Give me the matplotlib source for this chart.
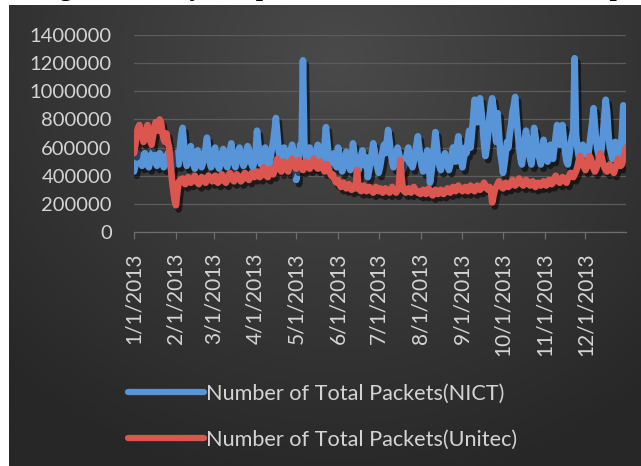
import numpy as np
import pandas as pd
import matplotlib
matplotlib.use("Agg")
import matplotlib.pyplot as plt
import matplotlib.patheffects as pe

# ---------------- data (thousands of packets per day, 2013) ----------------
start_date = "2013-01-01"
end_date = "2013-12-31"

nict_k = [
    # Jan
    430, 470, 520, 560, 540, 500, 470, 520, 560, 540, 480, 460, 510, 550, 570, 530,
    490, 470, 520, 560, 540, 500, 460, 480, 530, 560, 520, 480, 450, 500, 540,
    # Feb
    560, 510, 480, 600, 690, 740, 620, 520, 470, 500, 560, 610, 540, 480, 450, 520,
    580, 560, 500, 460, 490, 550, 600, 670, 580, 500, 460, 510,
    # Mar
    560, 600, 520, 470, 450, 500, 560, 590, 540, 480, 460, 520, 580, 630, 560, 490,
    460, 500, 550, 600, 570, 510, 470, 490, 540, 610, 590, 520, 480, 460, 500,
    # Apr
    560, 720, 620, 520, 480, 510, 560, 600, 540, 490, 470, 530, 590, 640, 720, 810,
    700, 580, 520, 490, 540, 600, 560, 510, 480, 520, 580, 620, 560, 500,
    # May
    370, 450, 560, 620, 580, 1220, 640, 540, 500, 560, 600, 550, 490, 470, 520, 580,
    620, 580, 520, 480, 530, 620, 745, 640, 540, 480, 470, 520, 560, 500, 460,
    # Jun
    600, 540, 470, 430, 460, 520, 570, 540, 480, 440, 470, 630, 560, 500, 450, 430,
    480, 540, 580, 520, 470, 530, 390, 440, 500, 560, 630, 580, 500, 460,
    # Jul
    420, 460, 520, 580, 620, 560, 640, 725, 650, 560, 500, 460, 500, 560, 600, 560,
    500, 470, 440, 480, 520, 560, 600, 540, 480, 460, 500, 560, 620, 680, 600,
    # Aug
    520, 460, 430, 470, 530, 580, 520, 350, 420, 500, 600, 710, 620, 520, 470, 440,
    480, 520, 560, 520, 470, 440, 480, 540, 600, 560, 500, 620, 680, 580, 500,
    # Sep
    460, 520, 600, 560, 650, 720, 600, 700, 820, 940, 900, 780, 880, 950, 860, 760,
    620, 540, 600, 700, 820, 900, 950, 880, 720, 640, 845, 700, 560, 500,
    # Oct
    420, 480, 560, 640, 600, 700, 760, 850, 900, 960, 820, 700, 600, 520, 480, 560,
    640, 720, 660, 580, 520, 480, 560, 740, 680, 600, 560, 520, 480, 560, 655,
    # Nov
    600, 540, 500, 560, 620, 580, 520, 600, 680, 760, 700, 620, 700, 760, 660, 560,
    500, 480, 540, 620, 680, 720, 1235, 700, 600, 540, 500, 560, 620, 580,
    # Dec
    520, 480, 540, 620, 700, 780, 880, 760, 640, 580, 540, 520, 600, 700, 820, 940,
    860, 700, 600, 560, 520, 580, 640, 600, 560, 520, 600, 700, 900, 760, 620,
]

unitec_k = [
    # Jan
    560, 620, 700, 740, 760, 720, 680, 640, 660, 720, 760, 700, 650, 620, 680, 740,
    780, 760, 720, 800, 780, 700, 660, 640, 700, 640, 600, 480, 380, 300, 230,
    # Feb
    190, 280, 350, 370, 360, 380, 350, 340, 360, 390, 370, 350, 360, 380, 400, 370,
    350, 340, 370, 390, 380, 360, 350, 370, 400, 390, 370, 360,
    # Mar
    380, 400, 370, 350, 360, 390, 410, 380, 360, 350, 370, 400, 420, 390, 370, 360,
    380, 410, 400, 380, 360, 370, 400, 420, 400, 380, 370, 390, 420, 410, 390,
    # Apr
    400, 430, 410, 390, 400, 440, 460, 420, 400, 390, 420, 450, 430, 410, 440, 480,
    520, 480, 450, 430, 460, 500, 480, 450, 430, 460, 500, 520, 490, 470,
    # May
    450, 480, 510, 490, 460, 440, 470, 500, 480, 460, 450, 470, 500, 520, 490, 460,
    450, 480, 500, 470, 450, 430, 460, 480, 450, 420, 400, 410, 380, 360, 350,
    # Jun
    370, 340, 320, 330, 350, 330, 310, 320, 340, 310, 300, 320, 330, 310, 440, 320,
    300, 290, 310, 330, 300, 290, 300, 320, 310, 290, 280, 300, 320, 300,
    # Jul
    290, 310, 300, 280, 290, 310, 300, 290, 280, 300, 320, 300, 290, 280, 300, 310,
    510, 380, 300, 290, 280, 300, 310, 290, 280, 300, 320, 300, 290, 280, 290,
    # Aug
    270, 290, 300, 280, 270, 290, 310, 290, 270, 260, 280, 300, 290, 270, 280, 300,
    290, 270, 280, 300, 310, 290, 280, 300, 320, 300, 290, 310, 330, 310, 300,
    # Sep
    290, 300, 320, 310, 290, 300, 330, 320, 300, 290, 310, 330, 320, 300, 310, 330,
    350, 330, 310, 300, 320, 300, 210, 260, 300, 320, 340, 360, 340, 320,
    # Oct
    310, 330, 350, 340, 320, 330, 350, 370, 350, 330, 340, 360, 380, 360, 340, 330,
    350, 370, 360, 340, 330, 350, 360, 340, 320, 330, 350, 340, 330, 350, 360,
    # Nov
    340, 330, 350, 370, 360, 340, 350, 380, 400, 380, 360, 350, 370, 390, 380, 360,
    350, 380, 400, 420, 400, 390, 410, 430, 460, 500, 540, 520, 480, 460,
    # Dec
    440, 460, 500, 540, 520, 480, 450, 430, 450, 480, 520, 560, 530, 490, 460, 440,
    430, 450, 480, 460, 440, 420, 450, 480, 520, 500, 470, 480, 520, 560, 600,
]

series_labels = ["Number of Total Packets(NICT)", "Number of Total Packets(Unitec)"]
y_ticks = [0, 200000, 400000, 600000, 800000, 1000000, 1200000, 1400000]
month_ticks = pd.date_range("2013-01-01", "2013-12-01", freq="MS")
month_labels = [f"{d.month}/1/2013" for d in month_ticks]
title_text = "Figure 5. Daily comparison of the total numbers of packets"

dates = pd.date_range(start_date, end_date, freq="D")
nict = np.array(nict_k) * 1000
unitec = np.array(unitec_k) * 1000

# ---------------- figure ----------------
W, H = 641, 466
fig = plt.figure(figsize=(W / 100, H / 100), dpi=100, facecolor="white")

# cropped caption above the chart (only the descenders remain visible)
fig.text(36 / W, 1 + 3.5 / H, title_text, family="Liberation Serif", weight="bold",
         fontsize=18.9, color="black", ha="left", va="baseline", zorder=-5)

# dark gradient chart area
bg = fig.add_axes([9 / W, 0, (W - 9) / W, (H - 5) / H], zorder=0)
bg.set_axis_off()
gy, gx = np.mgrid[0:1:300j, 0:1:400j]
d = np.sqrt(((gx - 0.52) / 0.75) ** 2 + ((gy - 0.12) / 0.95) ** 2)
d = np.clip(d, 0, 1)
c_in = np.array([0x4a, 0x4a, 0x4a]) / 255
c_out = np.array([0x27, 0x27, 0x27]) / 255
img = c_in[None, None, :] * (1 - d[..., None]) + c_out[None, None, :] * d[..., None]
bg.imshow(img, aspect="auto", extent=[0, 1, 1, 0], interpolation="bilinear")
bg.set_xlim(0, 1)
bg.set_ylim(1, 0)

# plot area
left, right, top, bottom = 134, 626, 35, 232
ax = fig.add_axes([left / W, 1 - bottom / H, (right - left) / W, (bottom - top) / H],
                  zorder=1)
ax.set_facecolor("none")

blue = "#5794d8"
red = "#dc5650"
shadow = [pe.SimpleLineShadow(offset=(2, -3), shadow_color="black", alpha=0.55),
          pe.Normal()]
l1, = ax.plot(dates, nict, color=blue, lw=4.8, solid_joinstyle="round",
              solid_capstyle="round", path_effects=shadow, label=series_labels[0])
l2, = ax.plot(dates, unitec, color=red, lw=4.8, solid_joinstyle="round",
              solid_capstyle="round", path_effects=shadow, label=series_labels[1])

ax.set_ylim(0, 1400000)
ax.set_xlim(dates[0], dates[-1])
ax.set_yticks(y_ticks)
ax.set_yticklabels([str(v) for v in y_ticks])
ax.set_xticks(month_ticks)
ax.set_xticklabels(month_labels, rotation=90)

ax.grid(axis="y", color="#5c5c5c", lw=0.9)
ax.set_axisbelow(True)
for s in ["left", "right", "top"]:
    ax.spines[s].set_visible(False)
ax.spines["bottom"].set_color("#6e6e6e")
ax.spines["bottom"].set_linewidth(0.9)

lab_col = "#d4d4d4"
ax.tick_params(axis="y", length=0, pad=16, labelcolor=lab_col, labelsize=14.5)
ax.tick_params(axis="x", length=5, width=0.9, color="#6e6e6e", pad=10,
               labelcolor=lab_col, labelsize=15)
for t in ax.get_xticklabels() + ax.get_yticklabels():
    t.set_family("Lato")

leg = fig.legend(handles=[l1, l2], loc="upper left",
                 bbox_to_anchor=(128 / W, 1 - 384 / H), frameon=False,
                 prop={"family": "Lato", "size": 15.6}, labelcolor=lab_col,
                 handlelength=3.5, handletextpad=0.1, labelspacing=1.2,
                 borderpad=0, borderaxespad=0)
for h in leg.get_lines():
    h.set_linewidth(4.5)
    h.set_path_effects([])

fig.savefig("out.png", dpi=100, facecolor="white")
